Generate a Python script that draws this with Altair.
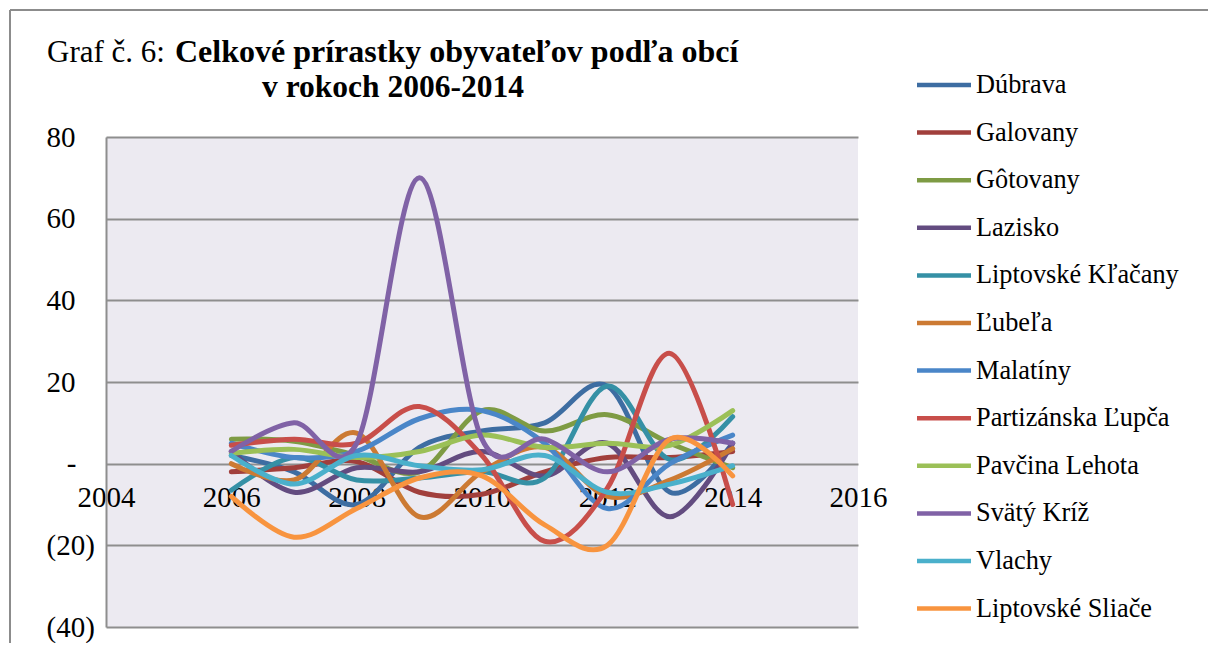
import altair as alt
import pandas as pd

years = [2006, 2007, 2008, 2009, 2010, 2011, 2012, 2013, 2014]

names = ["Dúbrava", "Galovany", "Gôtovany", "Lazisko", "Liptovské Kľačany", "Ľubeľa",
         "Malatíny", "Partizánska Ľupča", "Pavčina Lehota", "Svätý Kríž", "Vlachy",
         "Liptovské Sliače"]

colors = ["#3D6DA2", "#A13F3C", "#7E9B44", "#634C80", "#3590A5", "#CC7A33",
          "#4A86C8", "#C84E4A", "#9BC057", "#8062A6", "#4AB0CB", "#F8943F"]

dubrava = [2, -2, -10, 4, 8, 10, 19, -7, 5]
galovany = [-2, -1, 0.5, -7, -7.5, -2, 1.5, 1.5, 3]
gotovany = [6, 5.5, 2, -2, 13, 8, 12, 5, -1]
lazisko = [3, -7, -1, -2, 3, -3, 5, -13, 5]
klacany = [-6.5, 1.5, -4, -3.5, -2, -3.5, 19, 1, 11.5]
lubela = [0, -4, 7.5, -13, -2, 4, -8, -4, 3.7]
malatiny = [5, 1.5, 3, 11, 13, 5, -11, 0, 7]
partizanska = [4.5, 6, 5, 14, 2, -19, -6, 27, -10]
pavcina = [2.5, 3.5, 1.5, 3, 7, 4, 5, 4.5, 13]
svaty_kriz = [3, 10, 5, 70, 6, 6, -2, 6, 5]
vlachy = [2, -5, 2, -0.5, -1.5, 2, -7, -5, -0.5]
sliace = [-8, -18, -11, -3.5, -3, -15, -20, 6, -3]

series = [dubrava, galovany, gotovany, lazisko, klacany, lubela, malatiny,
          partizanska, pavcina, svaty_kriz, vlachy, sliace]

x_ticks = [2004, 2006, 2008, 2010, 2012, 2014, 2016]
y_ticks = [-40, -20, 0, 20, 40, 60, 80]

title_regular = "Graf č. 6: "
title_bold = "Celkové prírastky obyvateľov podľa obcí"
title_line2 = "v rokoch 2006-2014"

rows = []
for i, (n, vals) in enumerate(zip(names, series)):
    for yr, v in zip(years, vals):
        rows.append({"name": n, "year": yr, "value": v, "ord": i})
df = pd.DataFrame(rows)

FONT = "Liberation Serif"
GRID = "#8E8E8E"

nb = "\u00a0"
zero_lead = "\u200b" + nb + nb + "\u2009"
label_expr = (
    "datum.value == 0 ? '" + zero_lead + "-' : (datum.value < 0 ? '(' + abs(datum.value) + ')' : '' + datum.value)"
)

lines = alt.Chart(df).mark_line(
    interpolate="cardinal", strokeWidth=5, strokeCap="round", strokeJoin="round", clip=False
).encode(
    x=alt.X("year:Q",
            scale=alt.Scale(domain=[2004, 2016], nice=False, zero=False),
            axis=alt.Axis(values=x_ticks, format="d", grid=False, domain=False, ticks=False,
                          offset=-163, labelPadding=19, labelFont=FONT, labelFontSize=29,
                          labelColor="black", title=None, labelFlush=False)),
    y=alt.Y("value:Q",
            scale=alt.Scale(domain=[-40, 80], nice=False),
            axis=alt.Axis(values=y_ticks, labelExpr=label_expr, grid=True, gridColor=GRID,
                          gridWidth=2, gridOpacity=1, domain=True, domainColor=GRID, domainWidth=2,
                          ticks=False, labelPadding=60, labelAlign="left", labelFont=FONT,
                          labelFontSize=29, labelColor="black", title=None)),
    color=alt.Color("name:N",
                    scale=alt.Scale(domain=names, range=colors),
                    legend=alt.Legend(orient="none", legendX=795, legendY=-68, title=None,
                                      symbolType="M0,0H4", symbolSize=729, symbolStrokeWidth=4.5,
                                      labelFont=FONT, labelFontSize=26.3, labelColor="black",
                                      labelLimit=0, labelOffset=43, rowPadding=17.6, padding=0)),
    detail="ord:O",
)

frame_top = alt.Chart(pd.DataFrame({"a": [0]})).mark_rule(
    stroke="#8C8C8C", strokeWidth=2, clip=False
).encode(x=alt.value(-96), x2=alt.value(1104), y=alt.value(-127))

frame_left = alt.Chart(pd.DataFrame({"a": [0]})).mark_rule(
    stroke="#8C8C8C", strokeWidth=2, clip=False
).encode(x=alt.value(-96), y=alt.value(-127), y2=alt.value(520))

t1 = alt.Chart(pd.DataFrame({"t": [title_regular]})).mark_text(
    align="left", baseline="alphabetic", font=FONT, fontSize=31, color="black"
).encode(text="t:N", x=alt.value(-59), y=alt.value(-75))

t2 = alt.Chart(pd.DataFrame({"t": [title_bold]})).mark_text(
    align="left", baseline="alphabetic", font=FONT, fontSize=32, fontWeight="bold", color="black"
).encode(text="t:N", x=alt.value(69), y=alt.value(-75))

t3 = alt.Chart(pd.DataFrame({"t": [title_line2]})).mark_text(
    align="center", baseline="alphabetic", font=FONT, fontSize=31.5, fontWeight="bold", color="black"
).encode(text="t:N", x=alt.value(287), y=alt.value(-40))

chart = alt.layer(frame_top, frame_left, lines, t1, t2, t3).properties(
    width=752, height=490,
    autosize=alt.AutoSizeParams(type="none"),
    padding={"left": 98, "top": 129, "right": 350, "bottom": 16},
    background="white",
).configure(font=FONT).configure_axis(labelFont=FONT).configure_legend(
    labelFont=FONT
).configure_view(fill="#ECEAF1", stroke=None)

chart.save("out.html", embed_options={"renderer": "svg", "actions": False})
